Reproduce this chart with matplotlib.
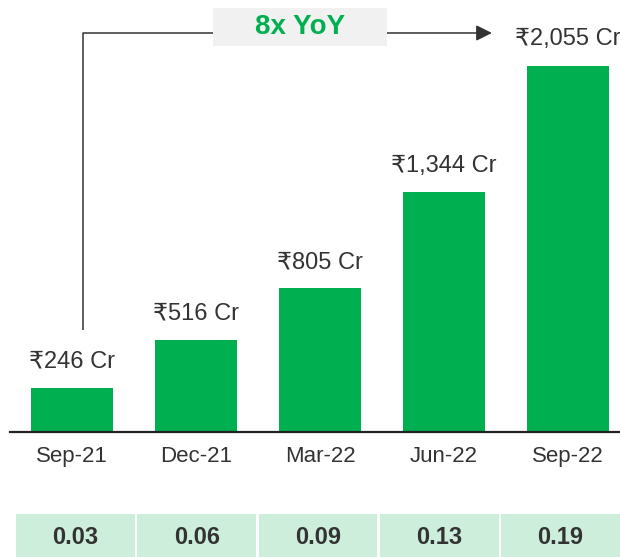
import matplotlib
matplotlib.use("Agg")
import matplotlib.pyplot as plt
from matplotlib.patches import Rectangle

quarters = ["Sep-21", "Dec-21", "Mar-22", "Jun-22", "Sep-22"]
values = [246, 516, 805, 1344, 2055]
value_labels = ["₹246 Cr", "₹516 Cr", "₹805 Cr", "₹1,344 Cr", "₹2,055 Cr"]
ratios = ["0.03", "0.06", "0.09", "0.13", "0.19"]
growth_label = "8x YoY"

GREEN = "#00B050"
TEXT = "#333333"
FONTS = ["Liberation Sans", "DejaVu Sans"]
plt.rcParams["font.family"] = FONTS

fig = plt.figure(figsize=(6.2, 5.57), dpi=100)
ax = fig.add_axes([10 / 620, 125 / 557, 610 / 620, 432 / 557])

x = list(range(len(quarters)))
ax.bar(x, values, width=0.66, color=GREEN)
ax.set_xlim(-0.5, 4.42)
ax.set_ylim(0, 2423)

for xi, v, lab in zip(x, values, value_labels):
    ax.annotate(lab, (xi, v), xytext=(0, 19), textcoords="offset points",
                ha="center", va="center", fontsize=17, color=TEXT)

ax.set_xticks(x)
ax.set_xticklabels(quarters, fontsize=16, color=TEXT)
ax.tick_params(axis="x", length=0, pad=10)
ax.set_yticks([])
for s in ["top", "right", "left"]:
    ax.spines[s].set_visible(False)
ax.spines["bottom"].set_color("#222222")
ax.spines["bottom"].set_linewidth(1.6)

# growth bracket from first bar to last bar
x0, x1 = 0.089, 3.387
y_top, y_low = 2238, 572
ax.plot([x0, x0, 2.6], [y_low, y_top, y_top], color="#333333", lw=1.1,
        solid_capstyle="butt", clip_on=False, zorder=2)
ax.annotate("", xy=(x1, y_top), xytext=(2.6, y_top),
            arrowprops=dict(arrowstyle="-|>", color="#333333", lw=1.1,
                            mutation_scale=24, shrinkA=0, shrinkB=0))
ax.add_patch(Rectangle((1.137, 2165), 1.403, 213, facecolor="#F1F1F1",
                       edgecolor="none", clip_on=False, zorder=3))
ax.text(1.839, 2271, growth_label, ha="center", va="center", zorder=4,
        fontsize=20, fontweight="bold", color=GREEN)

# ratio row below the chart
tab = fig.add_axes([16 / 620, 0, 604 / 620, 43 / 557])
cells = list(range(len(ratios)))
tab.bar(cells, [1] * len(ratios), width=0.98, color="#CDEEDB", align="center")
tab.set_xlim(-0.49, 4.49)
tab.set_ylim(0, 1)
for ci, r in zip(cells, ratios):
    tab.text(ci, 0.45, r, ha="center", va="center", fontsize=17,
             fontweight="bold", color=TEXT)
tab.axis("off")

fig.savefig("out.png", dpi=100)
